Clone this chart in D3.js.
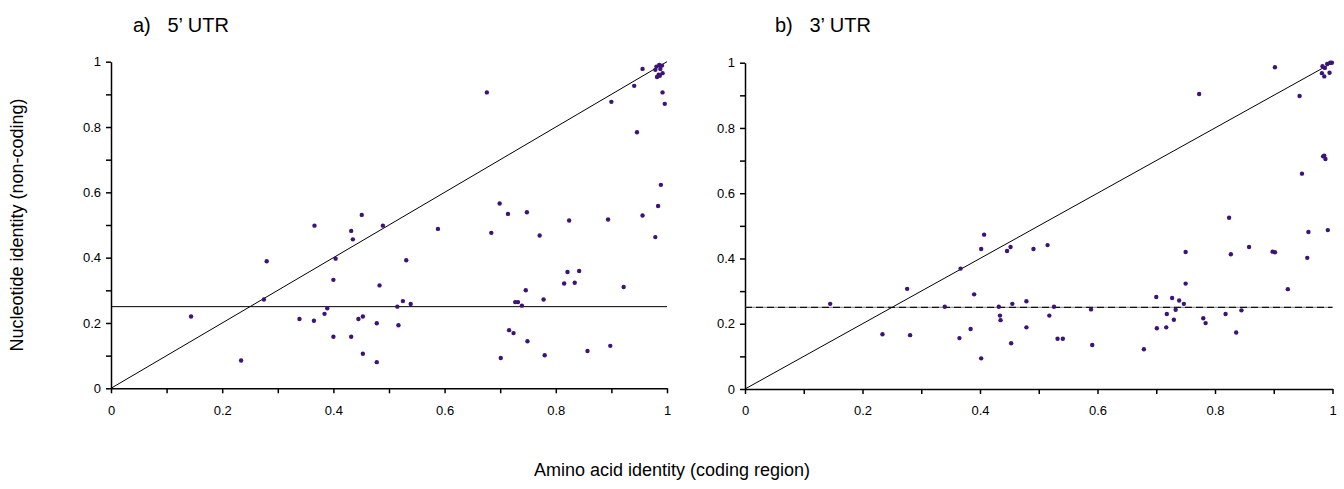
<!DOCTYPE html>
<html>
<head>
<meta charset="utf-8">
<script src="https://cdn.jsdelivr.net/npm/d3@7"></script>
<style>
  body { margin: 0; background: #fff; }
  svg { display: block; font-family: "Liberation Sans", Arial, sans-serif; }
  .axis path, .axis line { stroke: #000; stroke-width: 1.5px; }
  .axis text { font-size: 13px; fill: #000; }
</style>
</head>
<body>
<div id="chart"></div>
<script>
// values
const tickValues = [0, 0.1, 0.2, 0.3, 0.4, 0.5, 0.6, 0.7, 0.8, 0.9, 1];
const tickLabels = ["0", "", "0.2", "", "0.4", "", "0.6", "", "0.8", "", "1"];
const refLevel = 0.25;
const diagonal = [[0, 0], [1, 1]];

// a) 5' UTR
const utr5X = [0.366, 0.432, 0.451, 0.435, 0.676, 0.900, 0.941, 0.956,
  0.981, 0.986, 0.991, 0.979, 0.988, 0.982, 0.987, 0.992, 0.985,
  0.992, 0.996, 0.946, 0.989, 0.984, 0.956, 0.979, 0.699, 0.714, 0.748, 0.824, 0.894,
  0.588, 0.684, 0.771, 0.489, 0.280, 0.404, 0.400, 0.483, 0.275, 0.144, 0.339, 0.365,
  0.384, 0.389, 0.445, 0.453, 0.478, 0.400, 0.432, 0.453, 0.478, 0.234, 0.531, 0.821,
  0.842, 0.815, 0.834, 0.922, 0.746, 0.778, 0.525, 0.515, 0.539, 0.727, 0.732, 0.739,
  0.517, 0.716, 0.724, 0.749, 0.857, 0.898, 0.701, 0.780];
const utr5Y = [0.498, 0.482, 0.531, 0.456, 0.906, 0.877, 0.926, 0.978,
  0.985, 0.990, 0.988, 0.975, 0.978, 0.953, 0.957, 0.965, 0.960,
  0.906, 0.871, 0.784, 0.623, 0.558, 0.529, 0.463, 0.566, 0.534, 0.539, 0.514, 0.517,
  0.488, 0.476, 0.468, 0.498, 0.389, 0.397, 0.332, 0.315, 0.272, 0.220, 0.212, 0.207,
  0.228, 0.245, 0.212, 0.220, 0.199, 0.158, 0.158, 0.106, 0.080, 0.085, 0.392, 0.356,
  0.359, 0.321, 0.323, 0.310, 0.300, 0.272, 0.267, 0.250, 0.258, 0.264, 0.264, 0.253,
  0.193, 0.178, 0.169, 0.144, 0.114, 0.130, 0.093, 0.101];

// b) 3' UTR
const utr3X = [0.407, 0.773, 0.902, 0.944,
  0.983, 0.987, 0.991, 0.996, 0.999, 0.982, 0.986, 0.995,
  0.984, 0.988, 0.986, 0.948, 0.824, 0.959, 0.992, 0.402, 0.446, 0.452, 0.367, 0.276,
  0.390, 0.145, 0.340, 0.432, 0.455, 0.434, 0.435, 0.384, 0.234, 0.281, 0.365, 0.453,
  0.402, 0.491, 0.515, 0.750, 0.827, 0.858, 0.898, 0.902, 0.957, 0.750, 0.924, 0.700,
  0.727, 0.739, 0.747, 0.479, 0.526, 0.589, 0.733, 0.845, 0.518, 0.718, 0.818, 0.780,
  0.784, 0.730, 0.479, 0.701, 0.717, 0.836, 0.532, 0.541, 0.591, 0.679];
const utr3Y = [0.473, 0.904, 0.986, 0.898,
  0.989, 0.984, 0.996, 1.000, 1.000, 0.968, 0.958, 0.969,
  0.713, 0.705, 0.715, 0.660, 0.525, 0.481, 0.487, 0.429, 0.423, 0.435, 0.369, 0.307,
  0.290, 0.261, 0.252, 0.252, 0.261, 0.225, 0.211, 0.184, 0.168, 0.165, 0.156, 0.140,
  0.094, 0.429, 0.441, 0.420, 0.413, 0.435, 0.421, 0.419, 0.402, 0.323, 0.306, 0.282,
  0.279, 0.271, 0.261, 0.269, 0.252, 0.244, 0.243, 0.241, 0.225, 0.230, 0.230, 0.217,
  0.202, 0.212, 0.189, 0.186, 0.189, 0.173, 0.154, 0.154, 0.135, 0.122];

const W = 1344, H = 489;
const dotColor = '#3c1478';

const svg = d3.select('#chart').append('svg')
  .attr('width', W)
  .attr('height', H);

function panel(cfg){
  const scaleX = d3.scaleLinear().domain([0, 1]).range([cfg.x0, cfg.x1]);
  const scaleY = d3.scaleLinear().domain([0, 1]).range([cfg.y0, cfg.y1]);
  const g = svg.append('g');

  const fmt = d => tickLabels[tickValues.indexOf(d)];

  const axisX = d3.axisBottom(scaleX)
    .tickValues(tickValues)
    .tickFormat(fmt)
    .tickSize(5)
    .tickSizeOuter(0)
    .tickPadding(12);
  const axisY = d3.axisLeft(scaleY)
    .tickValues(tickValues)
    .tickFormat(fmt)
    .tickSize(5)
    .tickSizeOuter(0)
    .tickPadding(5);

  g.append('g').attr('class', 'axis')
    .attr('transform', `translate(0,${cfg.y0})`)
    .call(axisX);
  g.append('g').attr('class', 'axis')
    .attr('transform', `translate(${cfg.x0},0)`)
    .call(axisY);

  //reference lines
  const line = d3.line().x(d => scaleX(d[0])).y(d => scaleY(d[1]));
  g.append('path')
    .attr('d', line(diagonal))
    .style('fill', 'none')
    .style('stroke', '#000')
    .style('stroke-width', '1px');

  const flat = [[0, refLevel], [1, refLevel]];
  if(cfg.dashed){
    g.append('path')
      .attr('d', line(flat))
      .style('fill', 'none')
      .style('stroke', '#9a9a9a')
      .style('stroke-width', '1.2px');
    g.append('path')
      .attr('d', line(flat))
      .style('fill', 'none')
      .style('stroke', '#111')
      .style('stroke-width', '1.2px')
      .style('stroke-dasharray', '7,4');
  } else {
    g.append('path')
      .attr('d', line(flat))
      .style('fill', 'none')
      .style('stroke', '#000')
      .style('stroke-width', '1px');
  }

  g.selectAll('circle')
    .data(cfg.xs.map((x, i) => [x, cfg.ys[i]]))
    .enter().append('circle')
    .attr('cx', d => scaleX(d[0]))
    .attr('cy', d => scaleY(d[1]))
    .attr('r', 2.2)
    .style('fill', dotColor);

  g.append('text')
    .attr('x', cfg.titleX)
    .attr('y', 32)
    .style('font-size', '20px')
    .style('white-space', 'pre')
    .text(cfg.title);
}

panel({x0: 111, x1: 667, y0: 388.3, y1: 61.7, xs: utr5X, ys: utr5Y,
  title: 'a)   5\u2019 UTR', titleX: 133, dashed: false});
panel({x0: 745, x1: 1332.5, y0: 389, y1: 62.7, xs: utr3X, ys: utr3Y,
  title: 'b)   3\u2019 UTR', titleX: 775, dashed: true});

svg.append('text')
  .attr('transform', 'translate(23,225) rotate(-90)')
  .attr('text-anchor', 'middle')
  .style('font-size', '18px')
  .text('Nucleotide identity (non-coding)');

svg.append('text')
  .attr('x', 672)
  .attr('y', 476)
  .attr('text-anchor', 'middle')
  .style('font-size', '18px')
  .text('Amino acid identity (coding region)');
</script>
</body>
</html>
